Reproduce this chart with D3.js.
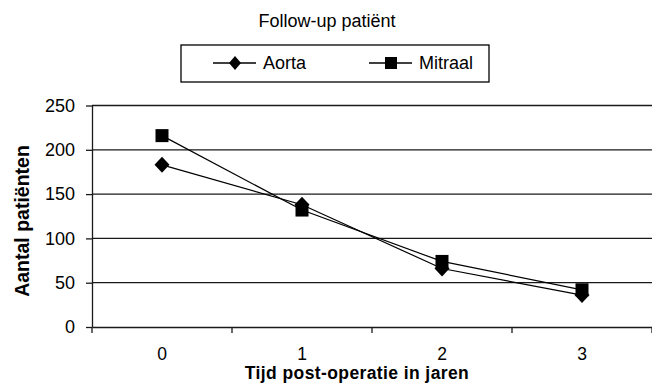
<!DOCTYPE html>
<html>
<head>
<meta charset="utf-8">
<script src="https://cdn.jsdelivr.net/npm/d3@7"></script>
<style>
  html, body { margin: 0; padding: 0; background: #fff; }
  svg { display: block; font-family: "Liberation Sans", Arial, sans-serif; }
</style>
</head>
<body>
<svg id="chart" width="652" height="383"></svg>
<script>
// ---- data ----
const categories = ["0", "1", "2", "3"];
const aorta = [183, 138, 66, 36];
const mitraal = [216, 132, 74, 42];
const yTicks = [0, 50, 100, 150, 200, 250];
const chartTitle = "Follow-up patiënt";
const xTitle = "Tijd post-operatie in jaren";
const yTitle = "Aantal patiënten";
const seriesNames = ["Aorta", "Mitraal"];

(function () {
// ---- layout ----
const svg = d3.select("#chart");
const plotLeft = 92, plotRight = 652, plotTop = 105.5, plotBottom = 327;

const x = d3.scaleBand().domain(categories).range([plotLeft, plotRight]).paddingInner(0).paddingOuter(0);
const y = d3.scaleLinear().domain([0, 250]).range([plotBottom, plotTop]);

// gridlines
svg.append("g").selectAll("line").data(yTicks.filter(d => d > 0)).join("line")
  .attr("x1", plotLeft).attr("x2", plotRight)
  .attr("y1", d => y(d)).attr("y2", d => y(d))
  .attr("stroke", "#1a1a1a").attr("stroke-width", 1.3);

// y axis
const yAxis = d3.axisLeft(y).tickValues(yTicks).tickSize(6).tickPadding(11).tickSizeOuter(0);
const gy = svg.append("g").attr("transform", `translate(${plotLeft},0)`).call(yAxis);
gy.select(".domain").attr("stroke", "#1a1a1a").attr("stroke-width", 1.3);
gy.selectAll(".tick line").attr("stroke", "#1a1a1a").attr("stroke-width", 1.3);
gy.selectAll(".tick text").attr("font-size", 18).attr("fill", "#000")
  .attr("font-family", "'Liberation Sans', Arial, sans-serif");

// x axis (labels at band centers, ticks at band boundaries)
const xAxis = d3.axisBottom(x).tickSize(0).tickPadding(20.5).tickSizeOuter(0);
const gx = svg.append("g").attr("transform", `translate(0,${plotBottom})`).call(xAxis);
gx.select(".domain").attr("stroke", "#1a1a1a").attr("stroke-width", 1.3);
gx.selectAll(".tick text").attr("font-size", 17.5).attr("fill", "#000")
  .attr("font-family", "'Liberation Sans', Arial, sans-serif");
const boundaries = categories.map(c => x(c)).concat([x(categories[categories.length - 1]) + x.bandwidth()]);
svg.append("g").selectAll("line").data(boundaries).join("line")
  .attr("x1", d => d).attr("x2", d => d)
  .attr("y1", plotBottom).attr("y2", plotBottom + 6)
  .attr("stroke", "#1a1a1a").attr("stroke-width", 1.3);

// series
const cx = c => x(c) + x.bandwidth() / 2;
const line = d3.line().x((d, i) => cx(categories[i])).y(d => y(d));
function diamondPath(px, py, hw, hh) {
  return `M${px},${py - hh}L${px + hw},${py}L${px},${py + hh}L${px - hw},${py}Z`;
}
function squarePath(px, py, s) {
  return `M${px - s / 2},${py - s / 2}h${s}v${s}h${-s}Z`;
}

[aorta, mitraal].forEach(vals => {
  svg.append("path").datum(vals).attr("d", line)
    .attr("fill", "none").attr("stroke", "#000").attr("stroke-width", 1.2);
});
svg.append("g").selectAll("path").data(mitraal).join("path")
  .attr("d", (d, i) => squarePath(cx(categories[i]), y(d), 13)).attr("fill", "#000");
svg.append("g").selectAll("path").data(aorta).join("path")
  .attr("d", (d, i) => diamondPath(cx(categories[i]), y(d), 7.5, 8)).attr("fill", "#000");

// title
svg.append("text").attr("x", 327).attr("y", 27).attr("text-anchor", "middle")
  .attr("font-size", 18).attr("fill", "#000").text(chartTitle);

// legend
const lg = svg.append("g");
lg.append("rect").attr("x", 181).attr("y", 45).attr("width", 308).attr("height", 37)
  .attr("fill", "#fff").attr("stroke", "#000").attr("stroke-width", 1.3);
const legendItems = [
  { name: seriesNames[0], x0: 213, shape: "diamond" },
  { name: seriesNames[1], x0: 369, shape: "square" }
];
legendItems.forEach(it => {
  lg.append("line").attr("x1", it.x0).attr("x2", it.x0 + 43).attr("y1", 63).attr("y2", 63)
    .attr("stroke", "#000").attr("stroke-width", 1.3);
  const mx = it.x0 + 22;
  lg.append("path").attr("d", it.shape === "diamond" ? diamondPath(mx, 63, 6, 7) : squarePath(mx, 63, 12))
    .attr("fill", "#000");
  lg.append("text").attr("x", it.x0 + 50).attr("y", 69).attr("font-size", 18).attr("fill", "#000").text(it.name);
});

// axis titles
svg.append("text").attr("x", 357).attr("y", 379).attr("text-anchor", "middle")
  .attr("font-size", 17.5).attr("letter-spacing", 0.4).attr("font-weight", "bold").attr("fill", "#000").text(xTitle);
svg.append("text").attr("transform", "translate(29,221) rotate(-90)").attr("text-anchor", "middle")
  .attr("font-size", 19.5).attr("font-weight", "bold").attr("fill", "#000").text(yTitle);
})();
</script>
</body>
</html>
